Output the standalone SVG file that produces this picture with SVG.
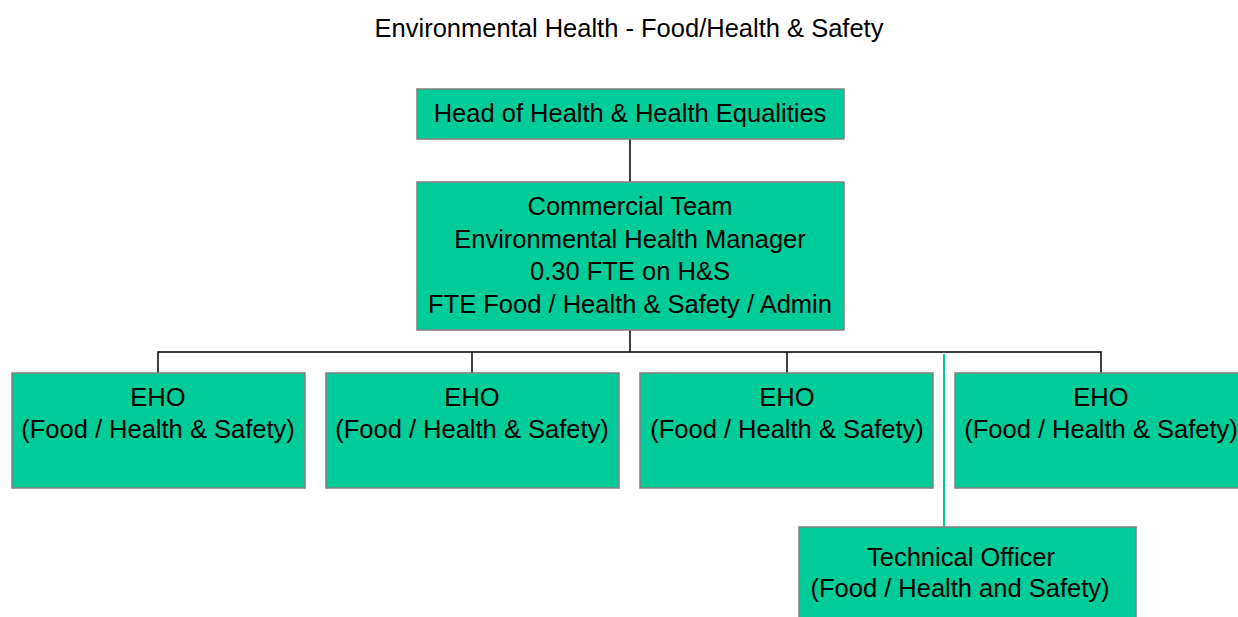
<svg xmlns="http://www.w3.org/2000/svg" width="1238" height="617" viewBox="0 0 1238 617">
  <style>
    .box { fill: #00CC99; stroke: #808080; stroke-width: 1.5; }
    .lbl { font-family: "Liberation Sans", Arial, sans-serif; font-size: 25.5px; fill: #000; text-anchor: middle; }
    .title { font-family: "Liberation Sans", Arial, sans-serif; font-size: 25.5px; fill: #000; text-anchor: middle; }
    .link { stroke: #000; stroke-width: 1.5; fill: none; }
    .link-aux { stroke: #00CC99; stroke-width: 2; fill: none; }
  </style>
  <rect width="1238" height="617" fill="#fff"/>

  <text class="title" x="629" y="37">Environmental Health - Food/Health &amp; Safety</text>

  <g id="connectors">
    <line class="link" x1="630" y1="139" x2="630" y2="182"/>
    <line class="link" x1="630" y1="330" x2="630" y2="352"/>
    <polyline class="link" points="158,373 158,352 1101,352 1101,373"/>
    <line class="link" x1="472" y1="352" x2="472" y2="373"/>
    <line class="link" x1="787" y1="352" x2="787" y2="373"/>
    <line class="link-aux" x1="944" y1="354" x2="944" y2="527"/>
  </g>

  <g id="head">
    <rect class="box" x="417" y="89" width="427" height="50"/>
    <text class="lbl" x="630" y="122">Head of Health &amp; Health Equalities</text>
  </g>

  <g id="manager">
    <rect class="box" x="417" y="182" width="427" height="148"/>
    <text class="lbl" x="630" y="215">Commercial Team</text>
    <text class="lbl" x="630" y="248">Environmental Health Manager</text>
    <text class="lbl" x="630" y="280">0.30 FTE on H&amp;S</text>
    <text class="lbl" x="630" y="313">FTE Food / Health &amp; Safety / Admin</text>
  </g>

  <g id="eho1">
    <rect class="box" x="12" y="373" width="293" height="115"/>
    <text class="lbl" x="158" y="406">EHO</text>
    <text class="lbl" x="158" y="438">(Food / Health &amp; Safety)</text>
  </g>

  <g id="eho2">
    <rect class="box" x="326" y="373" width="293" height="115"/>
    <text class="lbl" x="472" y="406">EHO</text>
    <text class="lbl" x="472" y="438">(Food / Health &amp; Safety)</text>
  </g>

  <g id="eho3">
    <rect class="box" x="640" y="373" width="293" height="115"/>
    <text class="lbl" x="787" y="406">EHO</text>
    <text class="lbl" x="787" y="438">(Food / Health &amp; Safety)</text>
  </g>

  <g id="eho4">
    <rect class="box" x="955" y="373" width="293" height="115"/>
    <text class="lbl" x="1101" y="406">EHO</text>
    <text class="lbl" x="1101" y="438">(Food / Health &amp; Safety)</text>
  </g>

  <g id="technical-officer">
    <rect class="box" x="799" y="527" width="337" height="100"/>
    <text class="lbl" x="961" y="566">Technical Officer</text>
    <text class="lbl" x="960" y="597">(Food / Health and Safety)</text>
  </g>
</svg>
